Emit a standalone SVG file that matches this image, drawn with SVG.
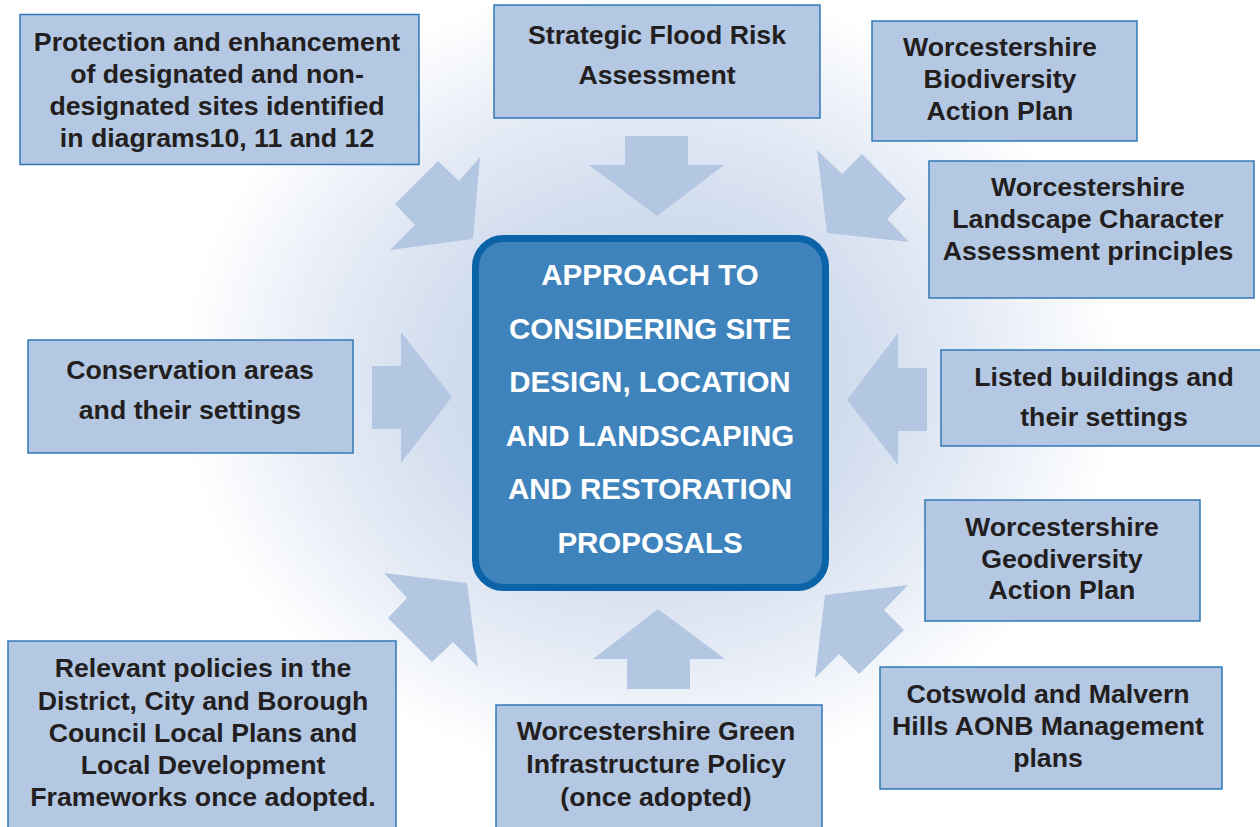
<svg xmlns="http://www.w3.org/2000/svg" width="1260" height="827" viewBox="0 0 1260 827">
  <defs>
    <radialGradient id="glow" cx="650" cy="380" r="470" gradientUnits="userSpaceOnUse" gradientTransform="translate(650 380) scale(1 0.85) translate(-650 -380)">
      <stop offset="0" stop-color="#c3d2e8"/>
      <stop offset="0.45" stop-color="#d2ddee"/>
      <stop offset="0.75" stop-color="#e9eef7"/>
      <stop offset="1" stop-color="#ffffff"/>
    </radialGradient>
    <style>
      .box { fill: #b4c8e4; stroke: #2f79b8; stroke-width: 1.5; }
      .lbl { font-family: "Liberation Sans", Arial, sans-serif; font-weight: bold; font-size: 26.7px; fill: #231f20; text-anchor: middle; }
      .hub { fill: #3f83bc; stroke: #0b63a8; stroke-width: 7; }
      .hubtxt { font-family: "Liberation Sans", Arial, sans-serif; font-weight: bold; font-size: 29.5px; fill: #ffffff; text-anchor: middle; }
      .arrow { fill: #b4c7e2; }
    </style>
  </defs>

  <rect x="0" y="0" width="1260" height="827" fill="#ffffff"/>
  <rect x="0" y="0" width="1260" height="827" fill="url(#glow)"/>

  <!-- connectors: block arrows pointing at the central box -->
  <g id="connectors">
    <polygon class="arrow" points="480,157 473,239 390,250 415,225 395,204 438,161 459,181"/>
    <polygon class="arrow" points="625,136 688,136 688,165 724,165 657,216 589,165 625,165"/>
    <polygon class="arrow" points="817,150 842,174 862,154 906,199 887,219 909,242 827,233"/>
    <polygon class="arrow" points="372,366 401,366 401,332 452,397 401,463 401,429 372,429"/>
    <polygon class="arrow" points="927,368 898,368 898,333 847,400 898,465 898,431 927,431"/>
    <polygon class="arrow" points="384,573 467,583 478,667 453,642 432,662 388,618 407,598"/>
    <polygon class="arrow" points="627,689 690,689 690,659 725,659 658,609 593,659 627,659"/>
    <polygon class="arrow" points="825,595 908,585 884,610 904,630 859,674 839,654 815,678"/>
  </g>

  <g id="hub">
    <rect class="hub" x="475.5" y="238.5" width="350" height="349" rx="28" ry="28"/>
    <text class="hubtxt" x="650" y="285">APPROACH TO</text>
    <text class="hubtxt" x="650" y="339">CONSIDERING SITE</text>
    <text class="hubtxt" x="650" y="392">DESIGN, LOCATION</text>
    <text class="hubtxt" x="650" y="446">AND LANDSCAPING</text>
    <text class="hubtxt" x="650" y="499">AND RESTORATION</text>
    <text class="hubtxt" x="650" y="553">PROPOSALS</text>
  </g>

  <g id="protection">
    <rect class="box" x="20" y="14.5" width="399" height="150"/>
    <text class="lbl" x="217" y="51">Protection and enhancement</text>
    <text class="lbl" x="217" y="83">of designated and non-</text>
    <text class="lbl" x="217" y="115">designated sites identified</text>
    <text class="lbl" x="217" y="147">in diagrams10, 11 and 12</text>
  </g>

  <g id="flood-risk">
    <rect class="box" x="494" y="5" width="326" height="113"/>
    <text class="lbl" x="657" y="44">Strategic Flood Risk</text>
    <text class="lbl" x="657" y="84">Assessment</text>
  </g>

  <g id="biodiversity">
    <rect class="box" x="872" y="21" width="265" height="120"/>
    <text class="lbl" x="1000" y="56">Worcestershire</text>
    <text class="lbl" x="1000" y="88">Biodiversity</text>
    <text class="lbl" x="1000" y="120">Action Plan</text>
  </g>

  <g id="landscape">
    <rect class="box" x="929" y="161" width="325" height="137"/>
    <text class="lbl" x="1088" y="196">Worcestershire</text>
    <text class="lbl" x="1088" y="228">Landscape Character</text>
    <text class="lbl" x="1088" y="260">Assessment principles</text>
  </g>

  <g id="conservation">
    <rect class="box" x="28" y="340" width="325" height="113"/>
    <text class="lbl" x="190" y="379">Conservation areas</text>
    <text class="lbl" x="190" y="419">and their settings</text>
  </g>

  <g id="listed-buildings">
    <rect class="box" x="941" y="350" width="325" height="96"/>
    <text class="lbl" x="1104" y="386">Listed buildings and</text>
    <text class="lbl" x="1104" y="426">their settings</text>
  </g>

  <g id="geodiversity">
    <rect class="box" x="925" y="500" width="275" height="121"/>
    <text class="lbl" x="1062" y="536">Worcestershire</text>
    <text class="lbl" x="1062" y="568">Geodiversity</text>
    <text class="lbl" x="1062" y="599">Action Plan</text>
  </g>

  <g id="aonb">
    <rect class="box" x="880" y="667" width="342" height="122"/>
    <text class="lbl" x="1048" y="703">Cotswold and Malvern</text>
    <text class="lbl" x="1048" y="735">Hills AONB Management</text>
    <text class="lbl" x="1048" y="767">plans</text>
  </g>

  <g id="green-infrastructure">
    <rect class="box" x="496" y="705" width="326" height="126"/>
    <text class="lbl" x="656" y="740">Worcestershire Green</text>
    <text class="lbl" x="656" y="773">Infrastructure Policy</text>
    <text class="lbl" x="656" y="806">(once adopted)</text>
  </g>

  <g id="local-plans">
    <rect class="box" x="8" y="641" width="388" height="190"/>
    <text class="lbl" x="203" y="677">Relevant policies in the</text>
    <text class="lbl" x="203" y="710">District, City and Borough</text>
    <text class="lbl" x="203" y="742">Council Local Plans and</text>
    <text class="lbl" x="203" y="774">Local Development</text>
    <text class="lbl" x="203" y="806">Frameworks once adopted.</text>
  </g>
</svg>
